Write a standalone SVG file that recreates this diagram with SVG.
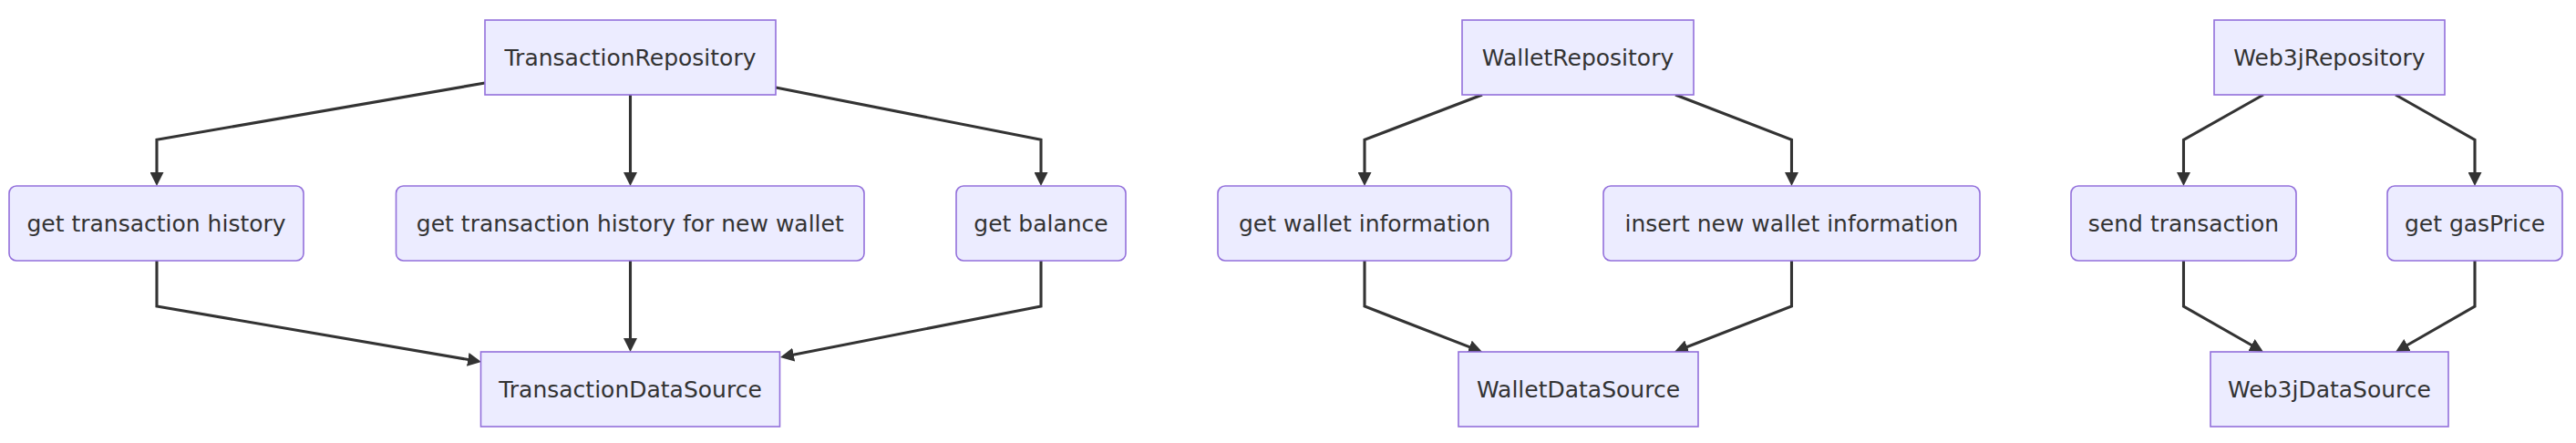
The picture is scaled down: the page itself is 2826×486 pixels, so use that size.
<svg xmlns="http://www.w3.org/2000/svg" width="2826" height="486" viewBox="0 0 2826 486">
<style>
.node rect{fill:#ECECFF;stroke:#9370DB;stroke-width:1.6}
.node text{font-family:"DejaVu Sans","Liberation Sans",sans-serif;font-size:25px;fill:#333333;text-anchor:middle}
.edges path{fill:none;stroke:#333333;stroke-width:3.1;marker-end:url(#arrow)}
</style>
<defs>
<marker id="arrow" viewBox="0 0 10 10" refX="7.333" refY="5" markerWidth="15" markerHeight="15" markerUnits="userSpaceOnUse" orient="auto">
<path d="M0,0 L10,5 L0,10 z" fill="#333333"/>
</marker>
</defs>
<rect width="2826" height="486" fill="#ffffff"/>
<g class="edges">
<path d="M532,91 L172,153.3 L172,200"/>
<path d="M691.5,104 L691.5,200"/>
<path d="M851,96 L1142,153.3 L1142,200"/>
<path d="M172,286 L172,336 L524.1,396.3"/>
<path d="M691.5,286 L691.5,382"/>
<path d="M1142,286 L1142,336 L859.9,391.2"/>
<path d="M1626,104 L1497,153.3 L1497,200"/>
<path d="M1838,104 L1965.5,153.3 L1965.5,200"/>
<path d="M1497,286 L1497,336 L1622.3,384.6"/>
<path d="M1965.5,286 L1965.5,336 L1840.7,384.5"/>
<path d="M2483,104 L2395.5,153.3 L2395.5,200"/>
<path d="M2628,104 L2715,153.3 L2715,200"/>
<path d="M2395.5,286 L2395.5,336 L2479.5,384"/>
<path d="M2715,286 L2715,336 L2631.5,384"/>
</g>
<g id="TransactionRepository" class="node"><rect x="532" y="22" width="319" height="82"/><text x="691.5" y="72">TransactionRepository</text></g>
<g id="getTransactionHistory" class="node"><rect x="10" y="204" width="323" height="82" rx="8" ry="8"/><text x="171.5" y="254">get transaction history</text></g>
<g id="getTransactionHistoryNewWallet" class="node"><rect x="434.5" y="204" width="513.5" height="82" rx="8" ry="8"/><text x="691.3" y="254">get transaction history for new wallet</text></g>
<g id="getBalance" class="node"><rect x="1049" y="204" width="186" height="82" rx="8" ry="8"/><text x="1142" y="254">get balance</text></g>
<g id="TransactionDataSource" class="node"><rect x="527.5" y="386" width="328" height="82"/><text x="691.5" y="436">TransactionDataSource</text></g>
<g id="WalletRepository" class="node"><rect x="1604" y="22" width="254" height="82"/><text x="1731" y="72">WalletRepository</text></g>
<g id="getWalletInformation" class="node"><rect x="1336" y="204" width="322" height="82" rx="8" ry="8"/><text x="1497" y="254">get wallet information</text></g>
<g id="insertNewWalletInformation" class="node"><rect x="1759" y="204" width="413" height="82" rx="8" ry="8"/><text x="1965.5" y="254">insert new wallet information</text></g>
<g id="WalletDataSource" class="node"><rect x="1600" y="386" width="263" height="82"/><text x="1731.5" y="436">WalletDataSource</text></g>
<g id="Web3jRepository" class="node"><rect x="2429" y="22" width="253" height="82"/><text x="2555.5" y="72">Web3jRepository</text></g>
<g id="sendTransaction" class="node"><rect x="2272" y="204" width="247" height="82" rx="8" ry="8"/><text x="2395.5" y="254">send transaction</text></g>
<g id="getGasPrice" class="node"><rect x="2619" y="204" width="192" height="82" rx="8" ry="8"/><text x="2715" y="254">get gasPrice</text></g>
<g id="Web3jDataSource" class="node"><rect x="2425" y="386" width="261" height="82"/><text x="2555.5" y="436">Web3jDataSource</text></g>
</svg>
